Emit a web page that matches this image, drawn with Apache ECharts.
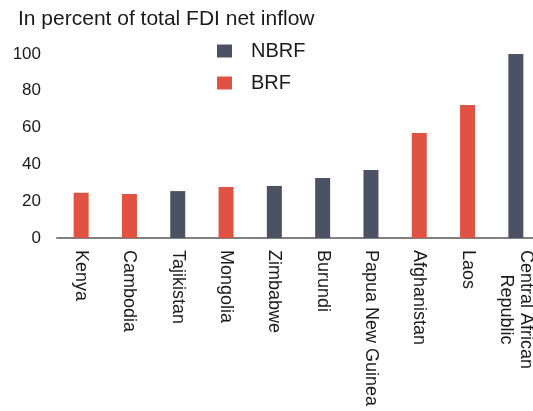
<!DOCTYPE html>
<html>
<head>
<meta charset="utf-8">
<script src="https://cdn.jsdelivr.net/npm/echarts@6/dist/echarts.min.js"></script>
<style>
  html, body { margin: 0; padding: 0; background: #fff; }
  #chart { width: 533px; height: 411px; }
</style>
</head>
<body>
<div id="chart"></div>
<script>
const countries = ['Kenya', 'Cambodia', 'Tajikistan', 'Mongolia', 'Zimbabwe', 'Burundi',
  'Papua New Guinea', 'Afghanistan', 'Laos', 'Central African\nRepublic']
// '-' = country not in that group
const nbrfValues = ['-', '-', 25.5, '-', 28.3, 32.6, 37, '-', '-', 100]
const brfValues = [24.6, 23.9, '-', 27.7, '-', '-', '-', 57.1, 72.3, '-']
const yTicks = [0, 20, 40, 60, 80, 100]

const textColor = '#1a1a1a'
const fontFamily = 'Liberation Sans, Arial, sans-serif'

const chart = echarts.init(document.getElementById('chart'))

chart.setOption({
  animation: false,
  textStyle: { fontFamily },
  title: {
    text: 'In percent of total FDI net inflow',
    left: 18,
    top: 9,
    padding: 0,
    textStyle: { fontSize: 21, lineHeight: 21, fontWeight: 'normal', color: textColor, fontFamily }
  },
  legend: {
    orient: 'vertical',
    left: 212,
    top: 36,
    itemWidth: 15,
    itemHeight: 13,
    itemGap: 12,
    icon: 'rect',
    textStyle: { fontSize: 20, lineHeight: 20, color: textColor, padding: [0, 0, 0, 14] },
    data: ['NBRF', 'BRF']
  },
  // the source picture is cut off on the right, so the plot runs past the edge
  grid: {
    left: 57, right: -7, top: 54, bottom: 173,
    containLabel: false,
    outerBoundsMode: 'none'
  },
  xAxis: {
    type: 'category',
    data: countries,
    axisLine: { lineStyle: { color: '#808080', width: 2 } },
    axisTick: { show: false },
    axisLabel: {
      rotate: -90,
      interval: 0,
      margin: 12,
      fontSize: 18,
      color: textColor,
      formatter: v => v.includes('\n') ? v.split('\n').map(s => '{c|' + s + '}').join('\n') : v,
      rich: { c: { width: 119, align: 'center', fontSize: 18, color: textColor, lineHeight: 20 } }
    }
  },
  yAxis: {
    type: 'value',
    min: yTicks[0],
    max: yTicks[yTicks.length - 1],
    interval: 20,
    axisLine: { show: false },
    axisTick: { show: false },
    splitLine: { show: false },
    axisLabel: { fontSize: 17, color: textColor, margin: 16 }
  },
  series: [
    {
      name: 'NBRF',
      type: 'bar',
      stack: 'all',
      barWidth: 15,
      itemStyle: { color: '#4a5264' },
      data: nbrfValues
    },
    {
      name: 'BRF',
      type: 'bar',
      stack: 'all',
      barWidth: 15,
      itemStyle: { color: '#e05243' },
      data: brfValues
    }
  ]
})
</script>
</body>
</html>
